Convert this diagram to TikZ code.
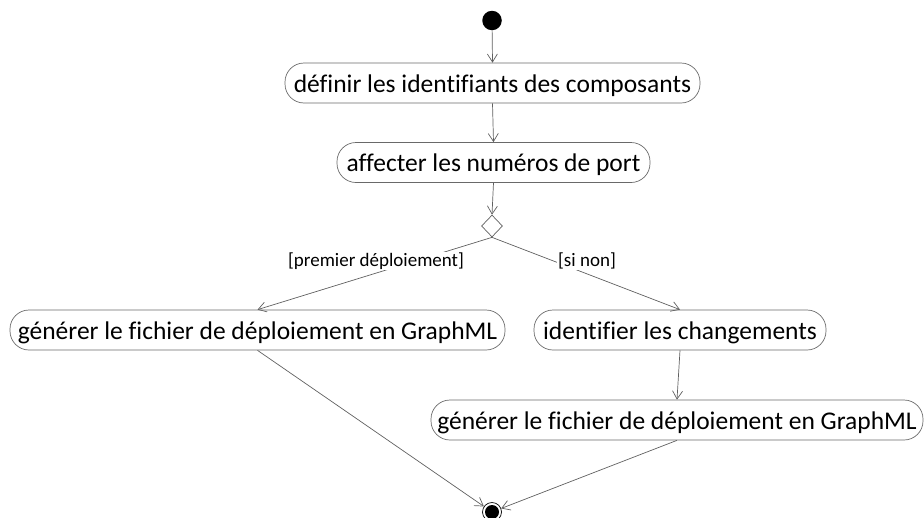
\documentclass[tikz,border=0pt]{standalone}
\usepackage{fontspec}
\setmainfont{Carlito}[Ligatures=NoCommon]
\usetikzlibrary{arrows.meta,shapes.geometric}
\definecolor{linegray}{RGB}{96,96,96}
\definecolor{boxgray}{RGB}{105,105,105}
\begin{document}
\begin{tikzpicture}[x=1pt,y=-1pt,
  act/.style={draw=boxgray, line width=0.7pt, rounded corners=19pt, minimum height=40pt,
    inner sep=0pt, text height=18pt, text depth=0pt, font=\fontsize{25.5}{30}\selectfont},
  flow/.style={draw=linegray, line width=0.7pt, -{Straight Barb[length=8pt,width=10pt]}},
  guard/.style={fill=white, inner sep=1pt, font=\fontsize{19}{23}\selectfont}]
\useasboundingbox (0,0) rectangle (924,517);
\node[circle, fill=black, minimum size=19.5pt, inner sep=0pt] (start) at (492,20.5) {};
\node[act, minimum width=415pt] (def) at (492.5,83) {définir les identifiants des composants};
\node[act, minimum width=313pt] (aff) at (493.5,162.5) {affecter les numéros de port};
\node[diamond, draw=linegray, line width=0.7pt, minimum width=21pt, minimum height=22pt, inner sep=0pt] (dec) at (492,226) {};
\node[act, minimum width=495pt] (genL) at (257.5,330) {générer le fichier de déploiement en GraphML};
\node[act, minimum width=292pt] (ident) at (680,330) {identifier les changements};
\node[act, minimum width=492pt] (genR) at (677,420) {générer le fichier de déploiement en GraphML};
\node[circle, draw=black, line width=0.7pt, minimum size=19pt, inner sep=0pt] (end) at (492,512) {};
\node[circle, fill=black, minimum size=14pt, inner sep=0pt] (endin) at (end.center) {};
\draw[flow] (start) -- (def.north);
\draw[flow] (def.south) -- (aff.north);
\draw[flow] (aff.south) -- (dec.north);
\draw[flow] (dec.south) -- (genL.north);
\draw[flow] (dec.south) -- (ident.north);
\draw[flow] (ident.south) -- (genR.north);
\draw[flow] (genL.south) -- (end);
\draw[flow] (genR.south) -- (end);
\node[guard] (gfirst) at (376,261) {[premier déploiement]};
\node[guard] (gelse) at (587,261) {[si non]};
\end{tikzpicture}
\end{document}
